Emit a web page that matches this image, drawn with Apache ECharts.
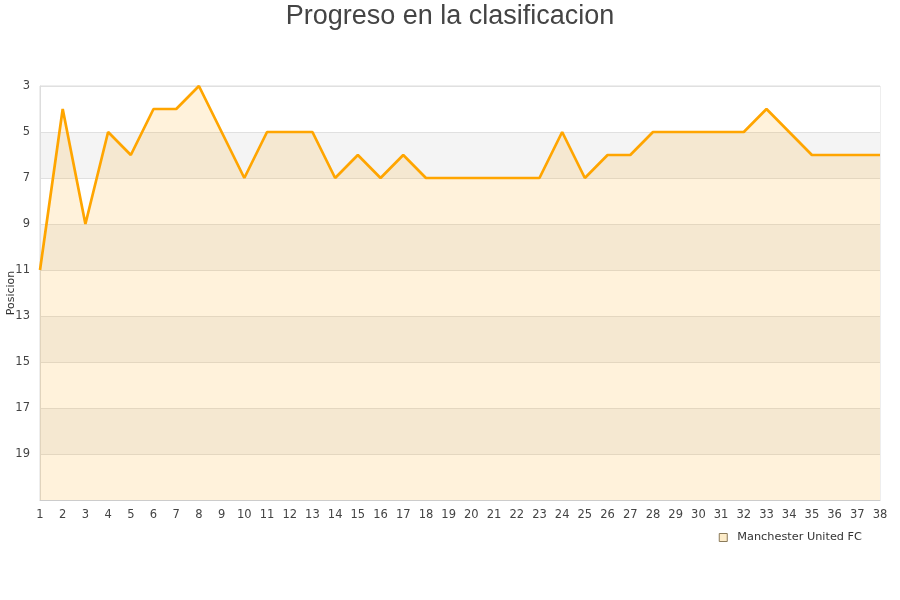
<!DOCTYPE html>
<html>
<head>
<meta charset="utf-8">
<script src="https://cdn.jsdelivr.net/npm/echarts@6/dist/echarts.min.js"></script>
<style>html,body{margin:0;padding:0;background:#fff}#c{width:900px;height:600px}</style>
</head>
<body>
<div id="c"></div>
<script>
var jornadas = [1,2,3,4,5,6,7,8,9,10,11,12,13,14,15,16,17,18,19,20,21,22,23,24,25,26,27,28,29,30,31,32,33,34,35,36,37,38];
var posiciones = [11,4,9,5,6,4,4,3,5,7,5,5,5,7,6,7,6,7,7,7,7,7,7,5,7,6,6,5,5,5,5,5,4,5,6,6,6,6];
var equipo = 'Manchester United FC';

var chart = echarts.init(document.getElementById('c'));
chart.setOption({
  animation: false,
  title: {
    text: 'Progreso en la clasificacion',
    left: 'center', top: -2,
    textStyle: {fontFamily: 'Liberation Sans, Arial', fontSize: 27, fontWeight: 'normal', color: '#444'}
  },
  legend: {
    right: 33, top: 527, itemGap: 10,
    itemWidth: 8, itemHeight: 8,
    icon: 'rect',
    data: [{name: equipo, itemStyle: {color: '#fdecc9', borderColor: '#8a7a5a', borderWidth: 1}}],
    textStyle: {fontFamily: 'DejaVu Sans', fontSize: 11.3, color: '#333', padding: [0, 0, 0, 5]}
  },
  grid: {left: 40, right: 20, top: 86, bottom: 100, containLabel: false, outerBoundsMode: 'none', show: true, borderColor: '#ddd', borderWidth: 1},
  xAxis: {
    type: 'category', data: jornadas, boundaryGap: false,
    axisLine: {lineStyle: {color: '#ccc'}},
    axisTick: {show: false},
    axisLabel: {fontFamily: 'DejaVu Sans', fontSize: 11.5, color: '#444', margin: 9, interval: 0},
    splitLine: {show: false}
  },
  yAxis: {
    type: 'value', inverse: true, min: 3, max: 21, interval: 2,
    name: 'Posicion', nameLocation: 'middle', nameGap: 23, nameMoveOverlap: false,
    nameTextStyle: {fontFamily: 'DejaVu Sans', fontSize: 11, color: '#333'},
    axisLine: {show: true, lineStyle: {color: '#ddd'}},
    axisTick: {show: false},
    axisLabel: {fontFamily: 'DejaVu Sans', fontSize: 11.5, color: '#444', margin: 10, showMaxLabel: false},
    splitLine: {show: true, lineStyle: {color: '#e0e0e0'}},
    splitArea: {show: true, areaStyle: {color: ['#ffffff', '#f4f4f4']}}
  },
  series: [{
    name: equipo, type: 'line', data: posiciones,
    showSymbol: false, symbol: 'none',
    lineStyle: {color: '#FFA500', width: 2.7},
    itemStyle: {color: '#FFA500'},
    areaStyle: {color: 'rgba(255,165,0,0.2)', origin: 'end'}
  }]
});
</script>
</body>
</html>
